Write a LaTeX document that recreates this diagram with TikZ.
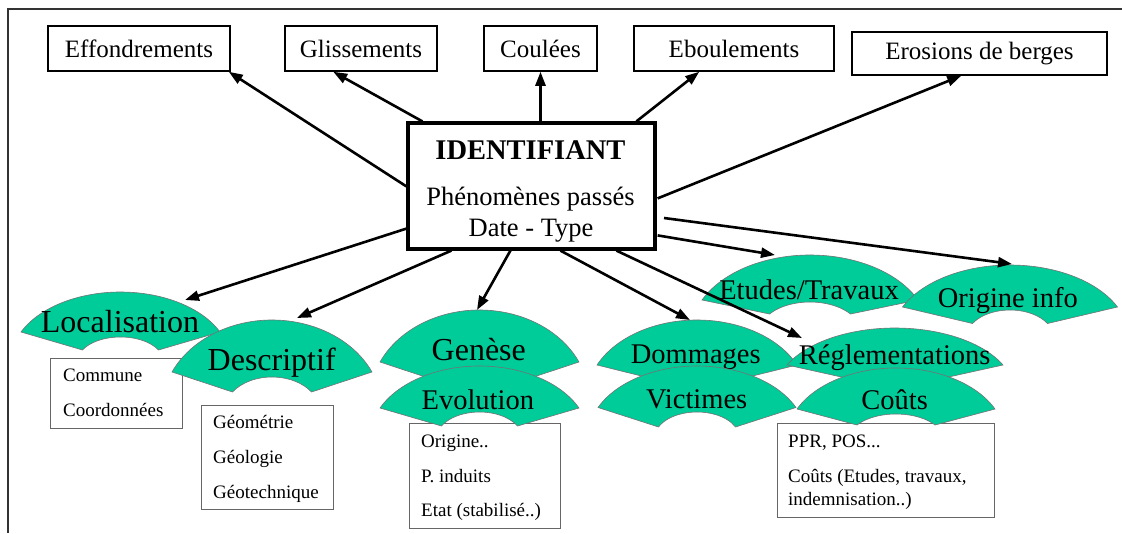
\documentclass[tikz,border=0pt]{standalone}
\usepackage{fontspec}
\setmainfont{Liberation Serif}
\usetikzlibrary{arrows.meta,calc}
\definecolor{fangreen}{RGB}{0,204,153}
\tikzset{
 topbox/.style={draw, line width=1.5pt, inner sep=0pt, font=\fontsize{25}{30}\selectfont},
 infobox/.style={draw=black!60, line width=1pt, inner sep=0pt},
 infotext/.style={anchor=base west, inner sep=0pt, font=\fontsize{19}{23}\selectfont},
 fanstyle/.style={fill=fangreen, draw=black!55, line width=0.6pt},
 fanbig/.style={anchor=base, inner sep=0pt, font=\fontsize{32}{38}\selectfont},
 fanmid/.style={anchor=base, inner sep=0pt, font=\fontsize{28.5}{34}\selectfont},
 arr/.style={line width=2.6pt, -{Triangle[length=14pt,width=10pt]}},
}
% #1 cx, #2 top y, #3 half width, #4 sagitta, #5 inner half width, #6 inner end offset, #7 inner top offset
\newcommand\myfanshape[7]{%
  \pgfmathsetmacro\fnB{#4/0.57738}%
  \pgfmathsetmacro\fnA{#3/0.90631}%
  \pgfmathsetmacro\fnb{\fnB-#7}%
  \pgfmathsetmacro\fnbeta{asin((\fnB-#6)/\fnb)}%
  \pgfmathsetmacro\fnbetaL{180-\fnbeta}%
  \pgfmathsetmacro\fna{#5/cos(\fnbeta)}%
  \pgfmathsetmacro\fncy{-(#2)-\fnB}%
  \pgfmathsetmacro\fnRx{#1+\fnA*cos(25)}%
  \pgfmathsetmacro\fnRy{\fncy+\fnB*sin(25)}%
  \pgfmathsetmacro\fnLx{#1+\fna*cos(\fnbetaL)}%
  \pgfmathsetmacro\fnLy{\fncy+\fnb*sin(\fnbetaL)}%
  \path[fanstyle] (\fnRx,\fnRy)
     arc[start angle=25,end angle=155,x radius=\fnA,y radius=\fnB]
     -- (\fnLx,\fnLy)
     arc[start angle=\fnbetaL,end angle=\fnbeta,x radius=\fna,y radius=\fnb]
     -- cycle;%
}
\begin{document}
\begin{tikzpicture}[x=1pt,y=1pt]
\useasboundingbox (0,0) rectangle (1122,-533);
\fill[white] (0,0) rectangle (1122,-533);
% frame
\draw[line width=1.5pt, black!80] (8,-533) -- (8,-9) -- (1122,-9);
% top boxes
\node[topbox, minimum width=182, minimum height=45] (eff) at (139,-48.5) {Effondrements};
\node[topbox, minimum width=152, minimum height=45] (gli) at (361,-48.5) {Glissements};
\node[topbox, minimum width=113, minimum height=45] (cou) at (540.5,-48.5) {Coulées};
\node[topbox, minimum width=200, minimum height=45] (ebo) at (734,-48.5) {Eboulements};
\node[topbox, minimum width=255, minimum height=43] (ero) at (979.5,-53.5) {Erosions de berges};
% identifier box
\node[draw, line width=3.2pt, minimum width=247, minimum height=126, inner sep=0pt] (id) at (531.5,-186) {};
\node[anchor=base, inner sep=0pt, font=\bfseries\fontsize{28.5}{34}\selectfont] (idt) at (530.5,-159.3) {IDENTIFIANT};
\node[anchor=base, inner sep=0pt, font=\fontsize{26.5}{32}\selectfont] (idp) at (530.5,-205.7) {Phénomènes passés};
\node[anchor=base, inner sep=0pt, font=\fontsize{26.5}{32}\selectfont] (idd) at (531,-236.7) {Date - Type};
% Localisation
\myfanshape{120.5}{292}{99.5}{40}{38}{58}{45}
\node[fanbig] (loc) at (120,-332) {Localisation};
\node[infobox, minimum width=132, minimum height=70] (bcom) at (116,-393) {};
\node[infotext] (t1) at (63,-381.7) {Commune};
\node[infotext] (t2) at (63,-416.7) {Coordonnées};
% Descriptif
\myfanshape{272}{320}{100}{52}{39.5}{72}{57}
\node[fanbig] (des) at (271.7,-370) {Descriptif};
\node[infobox, minimum width=132, minimum height=104] (bgeo) at (267,-457) {};
\node[infotext] (t3) at (213,-428) {Géométrie};
\node[infotext] (t4) at (213,-463) {Géologie};
\node[infotext] (t5) at (213,-498) {Géotechnique};
% Genese / Evolution
\myfanshape{479.5}{310}{99.5}{52}{39}{72}{57}
\node[fanbig] (gen) at (478.8,-360) {Genèse};
\node[infobox, minimum width=151, minimum height=105] (bori) at (484.5,-475.5) {};
\myfanshape{479.5}{366}{99.5}{42}{38}{60}{46}
\node[fanmid] (evo) at (477.8,-409) {Evolution};
\node[infotext] (t6) at (421,-447) {Origine..};
\node[infotext] (t7) at (421,-482) {P. induits};
\node[infotext] (t8) at (421,-516) {Etat (stabilisé..)};
% Dommages / Victimes
\myfanshape{697}{320}{100}{45}{39.5}{60}{47}
\node[fanmid] (dom) at (695.8,-363) {Dommages};
\myfanshape{697}{366}{99}{41.5}{38.5}{61}{46}
\node[fanmid] (vic) at (696.7,-408) {Victimes};
% Etudes / Origine info
\myfanshape{810}{255}{108}{45}{40.5}{59}{47}
\node[fanmid] (etu) at (809,-299) {Etudes/Travaux};
\myfanshape{1010}{265}{107.5}{42}{37.5}{58.5}{45}
\node[fanmid] (ori) at (1007.8,-307) {Origine info};
% Reglementations / Couts
\myfanshape{895}{328}{108}{37}{40}{52}{42}
\node[fanmid] (reg) at (894.7,-364) {Réglementations};
\node[infobox, minimum width=217, minimum height=94] (bppr) at (885.5,-470) {};
\myfanshape{896}{368}{99}{41}{39}{57}{46}
\node[fanmid] (cts) at (894.7,-409) {Coûts};
\node[infotext] (t9) at (788,-447) {PPR, POS...};
\node[infotext] (t10) at (788,-482) {Coûts (Etudes, travaux,};
\node[infotext] (t11) at (788,-505) {indemnisation..)};
% arrow end coordinates on the fans
\coordinate (loctip) at (185,-300);
\coordinate (destip) at (297,-318);
\coordinate (gentip) at (477,-310);
\coordinate (domtip) at (690,-320);
\coordinate (regtip) at (802,-338);
\coordinate (etutip) at (775,-255);
\coordinate (oritip) at (1012,-264);
\coordinate (oristart) at (664,-218);
% arrows
\draw[arr] ($(id.north west)+(0,-65)$) -- ($(eff.south east)+(-2,0)$);
\draw[arr] ($(id.north west)+(16,0)$) -- ($(gli.south west)+(49,0)$);
\draw[arr] (id.north -| cou.south) -- (cou.south);
\draw[arr] ($(id.north west)+(230,0)$) -- ($(ebo.south west)+(66,0)$);
\draw[arr] ($(id.north east)+(1,-77)$) -- ($(ero.south west)+(110,0)$);
\draw[arr] ($(id.north east)+(1,-114)$) -- (etutip);
\draw[arr] (oristart) -- (oritip);
\draw[arr] ($(id.south west)+(210,0)$) -- (regtip);
\draw[arr] ($(id.south west)+(154,0)$) -- (domtip);
\draw[arr] ($(id.south west)+(104,0)$) -- (gentip);
\draw[arr] ($(id.south west)+(45,0)$) -- (destip);
\draw[arr] ($(id.south west)+(0,22)$) -- (loctip);
\end{tikzpicture}
\end{document}
